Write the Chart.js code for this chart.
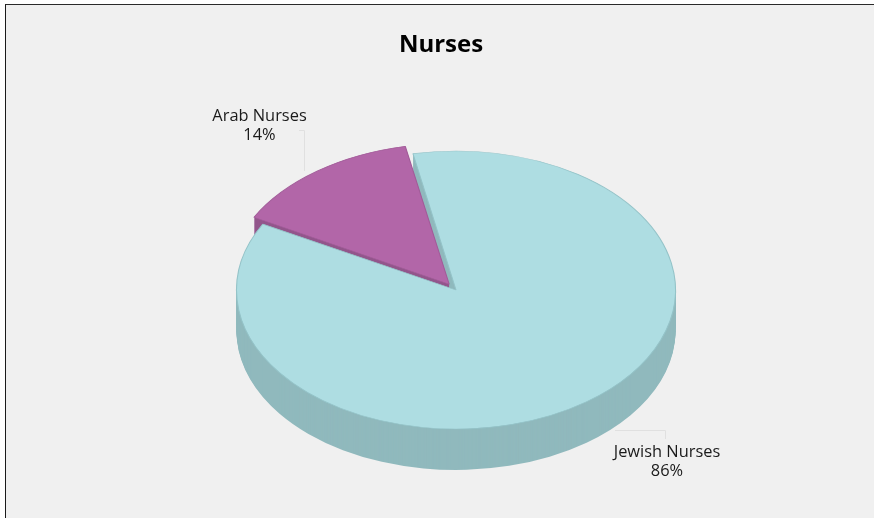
<!DOCTYPE html>
<html>
<head>
<meta charset="utf-8">
<title>Nurses</title>
<script src="https://cdn.jsdelivr.net/npm/chart.js@4/dist/chart.umd.min.js"></script>
<style>
html, body { margin: 0; background: #fff; }
#frame { position: absolute; left: 5px; top: 4px; width: 869px; height: 514px; box-sizing: border-box;
  background: #f0f0f0; border-top: 1px solid #2a2a2a; border-left: 1px solid #1a1a1a; }
#wrap { position: absolute; left: 0; top: 0; width: 874px; height: 518px; }
</style>
</head>
<body>
<div id="frame"></div>
<div id="wrap"><canvas id="nurses"></canvas></div>
<script>
const categories = ['Arab Nurses', 'Jewish Nurses'];
const percents = [14, 86];
const topColors = ['#b266a8', '#aedde2'];
const wallColors = ['#93568c', '#90b9bd'];
const edgeColors = ['#a25c99', '#94c3c8'];

const CX = 456, CY = 290, RX = 219.5, RY = 139, DEPTH = 41;

function tilt(ctx, arc, drop) {
  const r = arc.outerRadius;
  ctx.translate(CX, CY + drop);
  ctx.scale(RX / r, RY / r);
  ctx.translate(-arc.x, -arc.y);
}

// the side of the pie is the same slice repeated lower down
function drawWall(chart, index) {
  const ctx = chart.ctx;
  const arc = chart.getDatasetMeta(0).data[index];
  const base = chart.getDatasetMeta(0).data[1];
  const real = arc.options;
  arc.options = Object.create(real, {
    backgroundColor: { value: wallColors[index] },
    borderWidth: { value: 0 }
  });
  for (let d = DEPTH; d > 0; d--) {
    ctx.save();
    tilt(ctx, base, d);
    arc.draw(ctx);
    ctx.restore();
  }
  arc.options = real;
}

const pie3d = {
  id: 'pie3d',
  beforeDatasetsDraw(chart) {
    const ctx = chart.ctx;
    drawWall(chart, 1);
    drawWall(chart, 0);
    ctx.save();
    tilt(ctx, chart.getDatasetMeta(0).data[1], 0);
  },
  afterDatasetsDraw(chart) {
    const ctx = chart.ctx;
    ctx.restore();

    // leader lines
    ctx.save();
    ctx.strokeStyle = '#e0e0e0';
    ctx.lineWidth = 1;
    ctx.beginPath();
    ctx.moveTo(299, 130.5); ctx.lineTo(304.5, 130.5); ctx.lineTo(304.5, 171);
    ctx.moveTo(615, 430.5); ctx.lineTo(665.5, 430.5); ctx.lineTo(665.5, 439);
    ctx.stroke();

    // labels
    ctx.fillStyle = '#1a1a1a';
    ctx.font = '16.4px "Open Sans"';
    ctx.textAlign = 'center';
    ctx.textBaseline = 'middle';
    ctx.fillText(categories[0], 259.5, 116);
    ctx.fillText(percents[0] + '%', 259.5, 135);
    ctx.fillText(categories[1], 667, 452);
    ctx.fillText(percents[1] + '%', 667, 471);
    ctx.restore();
  }
};

new Chart(document.getElementById('nurses'), {
  type: 'pie',
  data: {
    labels: categories,
    datasets: [{
      data: percents,
      backgroundColor: topColors,
      borderColor: edgeColors,
      borderWidth: 1,
      offset: [42, 0]
    }]
  },
  options: {
    responsive: true,
    maintainAspectRatio: false,
    animation: false,
    rotation: -61.7,
    layout: { padding: { left: 8 } },
    plugins: {
      legend: { display: false },
      tooltip: { enabled: false },
      title: {
        display: true,
        text: 'Nurses',
        fullSize: false,
        color: '#000',
        font: { family: '"Open Sans"', size: 24, weight: 'bold' },
        padding: { top: 31, bottom: 10 }
      }
    }
  },
  plugins: [pie3d]
});
</script>
</body>
</html>
